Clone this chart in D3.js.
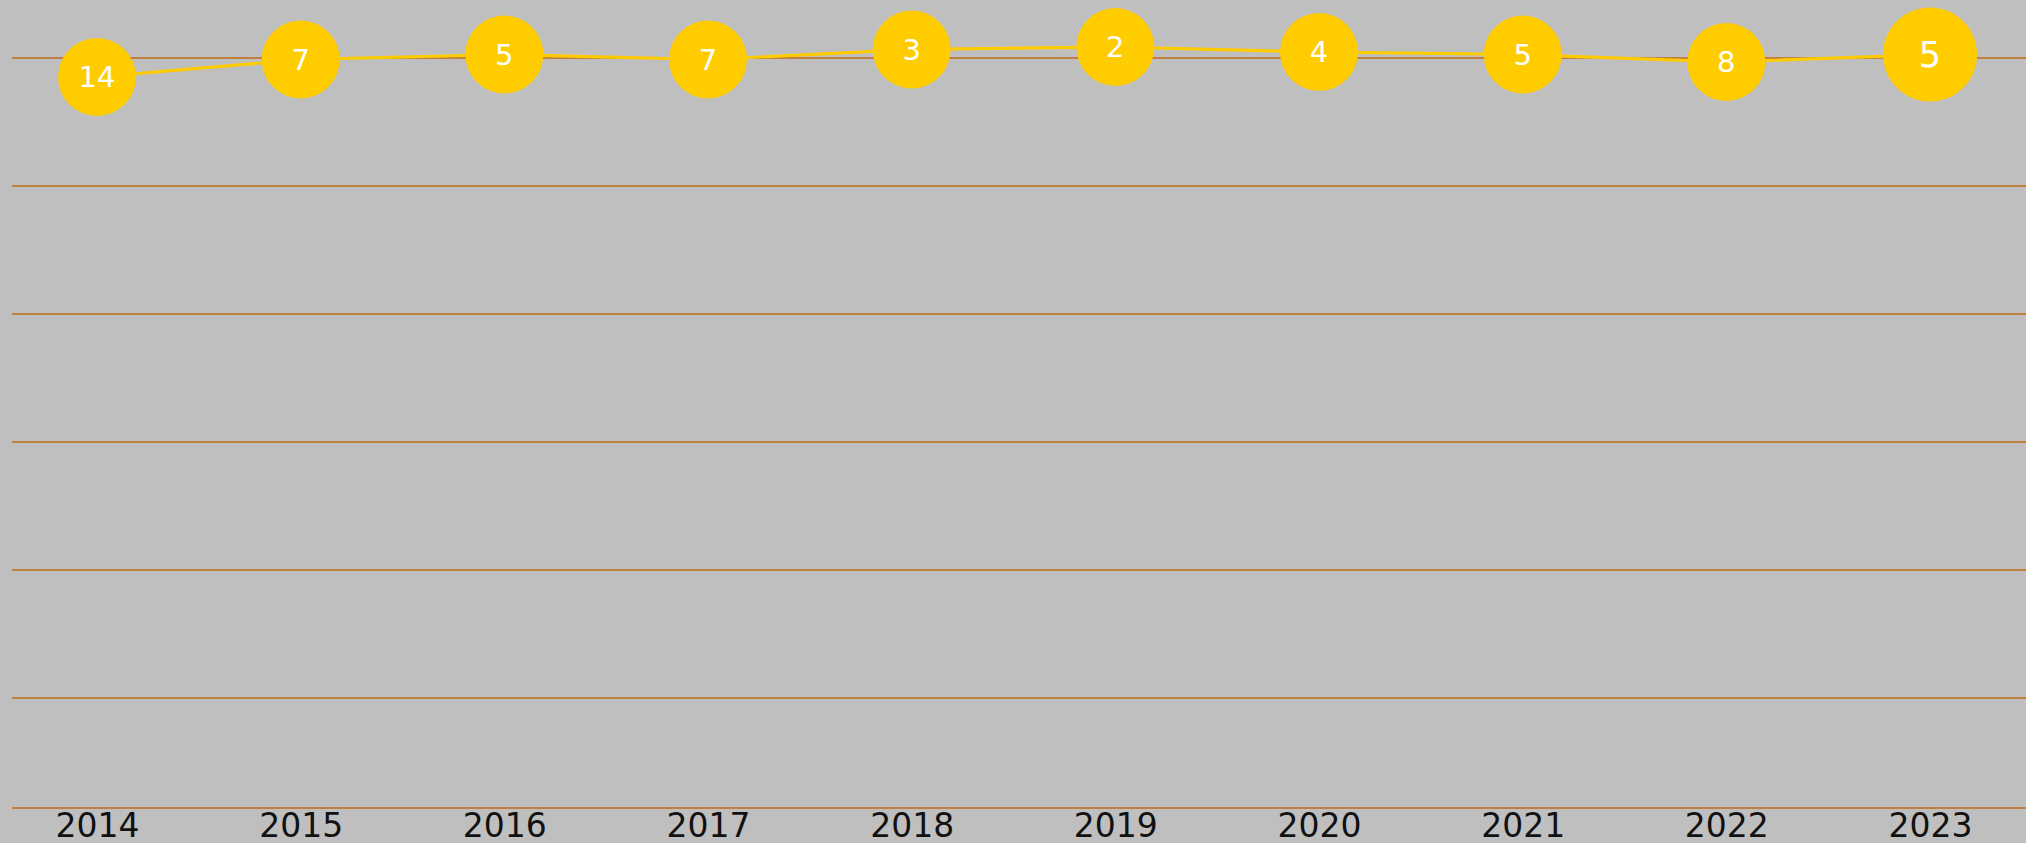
<!DOCTYPE html>
<html>
<head>
<meta charset="utf-8">
<script src="https://cdn.jsdelivr.net/npm/d3@7"></script>
<style>
  html, body { margin: 0; padding: 0; background: #bfbfbf; overflow: hidden; }
  svg { display: block; }
</style>
</head>
<body>
<svg id="chart" width="2026" height="843"></svg>
<script>
// ---- data ----
const years = ["2014","2015","2016","2017","2018","2019","2020","2021","2022","2023"];
const ranks = [14, 7, 5, 7, 3, 2, 4, 5, 8, 5];
const gridTicks = [0, 1, 2, 3, 4, 5];
const highlightYear = "2023";

// ---- layout ----
const W = 2026, H = 843;
const left = 12, right = 2026;
const axisY = 808;

const svg = d3.select("#chart");
svg.append("rect").attr("width", W).attr("height", H).attr("fill", "#bfbfbf");

const x = d3.scalePoint().domain(years).range([97, 1930]);
const y = d3.scaleLinear().domain([0, 306.4]).range([42, axisY]);
const g = d3.scaleLinear().domain([0, 5]).range([58, 698]);

// gridlines
svg.append("g")
  .selectAll("line")
  .data(gridTicks)
  .join("line")
  .attr("x1", left).attr("x2", right)
  .attr("y1", d => g(d)).attr("y2", d => g(d))
  .attr("stroke", "#c26a17")
  .attr("stroke-width", 1.6);

// baseline
svg.append("line")
  .attr("x1", left).attr("x2", right)
  .attr("y1", axisY).attr("y2", axisY)
  .attr("stroke", "#c26a17")
  .attr("stroke-width", 1.6);

// x axis labels
const xAxis = svg.append("g")
  .attr("transform", `translate(0,${axisY})`)
  .call(d3.axisBottom(x).tickSize(0).tickPadding(6));
xAxis.select(".domain").remove();
xAxis.selectAll("text")
  .attr("font-family", "'DejaVu Sans', sans-serif")
  .attr("font-size", 33)
  .attr("fill", "#111");

const data = years.map((yr, i) => ({ year: yr, rank: ranks[i] }));

// line
svg.append("path")
  .datum(data)
  .attr("fill", "none")
  .attr("stroke", "#ffcc00")
  .attr("stroke-width", 3.2)
  .attr("d", d3.line().x(d => x(d.year)).y(d => y(d.rank)));

// circles and labels
const pts = svg.append("g").selectAll("g")
  .data(data)
  .join("g")
  .attr("transform", d => `translate(${x(d.year)},${y(d.rank)})`);

pts.append("circle")
  .attr("r", d => d.year === highlightYear ? 47 : 39)
  .attr("fill", "#ffcc00");

pts.append("text")
  .attr("text-anchor", "middle")
  .attr("dy", "0.36em")
  .attr("font-family", "'DejaVu Sans', sans-serif")
  .attr("font-size", d => d.year === highlightYear ? 35 : 29)
  .attr("fill", "#ffffff")
  .text(d => d.rank);
</script>
</body>
</html>
